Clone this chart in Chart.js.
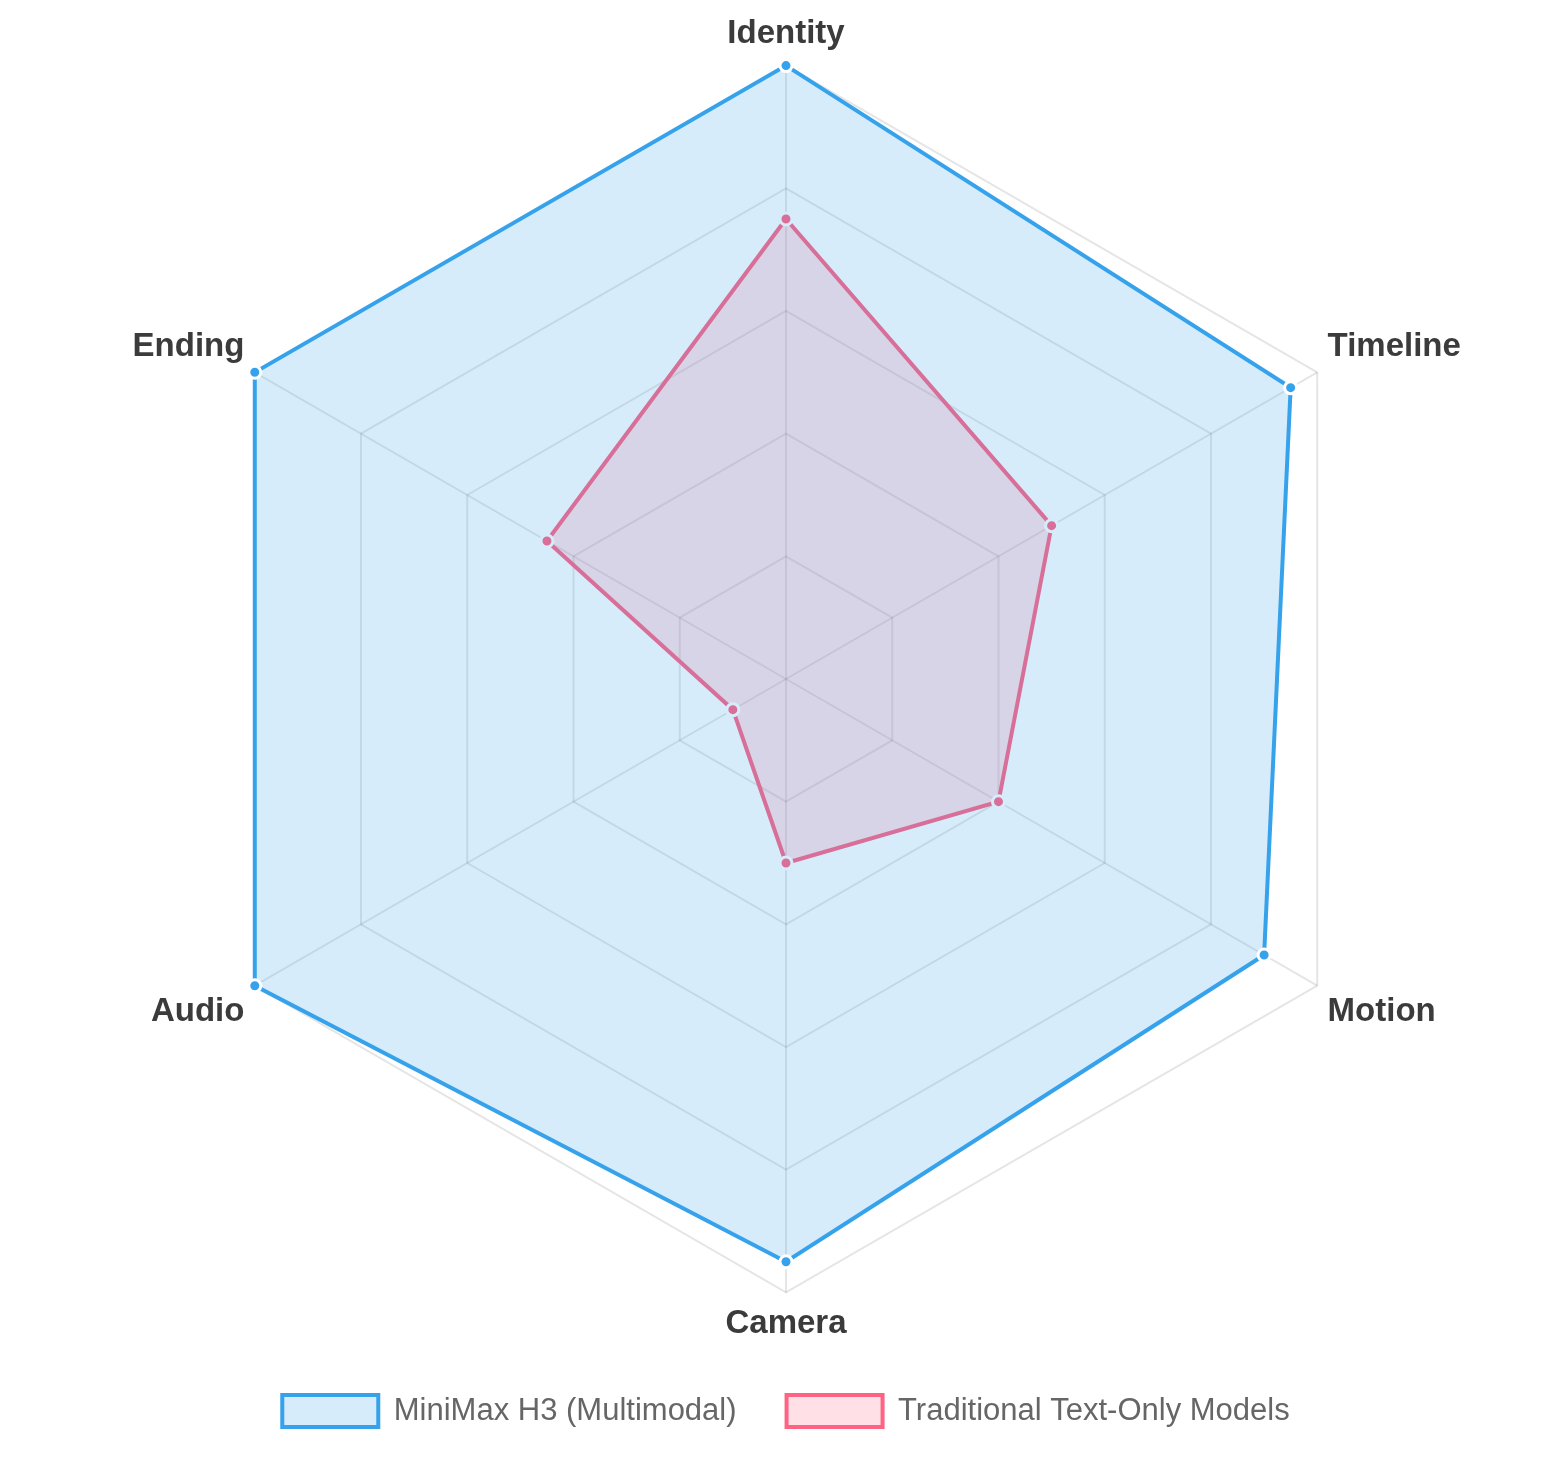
<!DOCTYPE html>
<html>
<head>
<meta charset="utf-8">
<script src="https://cdn.jsdelivr.net/npm/chart.js@4"></script>
<style>
  html, body { margin: 0; padding: 0; background: #fff; }
  #wrap { width: 1554px; height: 1458px; }
</style>
</head>
<body>
<div id="wrap"><canvas id="radarChart"></canvas></div>
<script>
const categories = ["Identity", "Timeline", "Motion", "Camera", "Audio", "Ending"];
const multimodalScores = [100, 95, 90, 95, 100, 100];
const textOnlyScores = [75, 50, 40, 30, 10, 45];
const seriesNames = ["MiniMax H3 (Multimodal)", "Traditional Text-Only Models"];

const ctx = document.getElementById("radarChart");

new Chart(ctx, {
    type: "radar",
    data: {
        labels: categories,
        datasets: [{
            label: seriesNames[0],
            data: multimodalScores,
            borderColor: "rgb(54, 162, 235)",
            backgroundColor: "rgba(54, 162, 235, 0.2)",
            borderWidth: 4,
            pointBackgroundColor: "rgb(54, 162, 235)",
            pointBorderColor: "#fff",
            pointBorderWidth: 3,
            pointRadius: 6
        }, {
            label: seriesNames[1],
            data: textOnlyScores,
            borderColor: "rgb(255, 99, 132)",
            backgroundColor: "rgba(255, 99, 132, 0.2)",
            borderWidth: 4,
            pointBackgroundColor: "rgb(255, 99, 132)",
            pointBorderColor: "#fff",
            pointBorderWidth: 3,
            pointRadius: 6
        }]
    },
    options: {
        responsive: true,
        maintainAspectRatio: false,
        animation: false,
        layout: {
            padding: { left: 18, right: 0, top: 14, bottom: 21 }
        },
        scales: {
            r: {
                min: 0,
                max: 100,
                ticks: { display: false, stepSize: 20 },
                grid: { color: "rgba(0, 0, 0, 0.1)", lineWidth: 2 },
                angleLines: { color: "rgba(0, 0, 0, 0.1)", lineWidth: 2 },
                pointLabels: {
                    color: "#3b3b3b",
                    padding: 12,
                    font: { family: "Liberation Sans, Arial, sans-serif", size: 33, weight: "bold" }
                }
            }
        },
        plugins: {
            legend: {
                position: "bottom",
                labels: {
                    color: "#666",
                    boxWidth: 96,
                    boxHeight: 32,
                    padding: 50,
                    font: { family: "Liberation Sans, Arial, sans-serif", size: 31 }
                }
            },
            tooltip: { enabled: false }
        }
    }
});
</script>
</body>
</html>
